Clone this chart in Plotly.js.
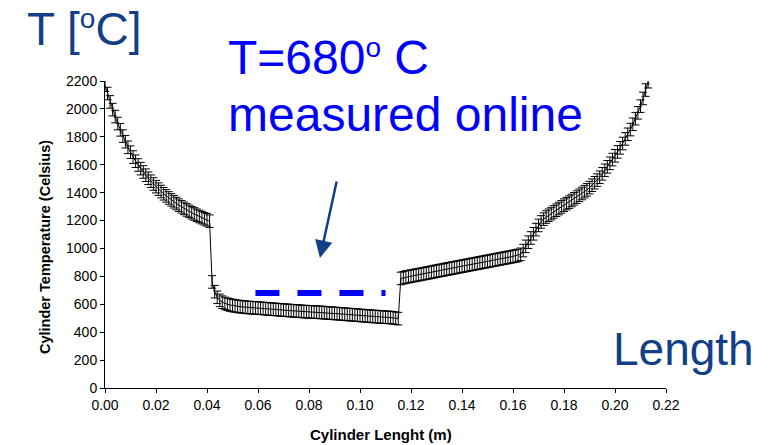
<!DOCTYPE html>
<html>
<head>
<meta charset="utf-8">
<script src="https://cdn.plot.ly/plotly-3.0.1.min.js"></script>
<style>html,body{margin:0;padding:0;background:#fff;}#chart{width:775px;height:445px;}</style>
</head>
<body>
<div id="chart"></div>
<script>
// Cylinder length (m)
const lengthM = [
0.000,0.001,0.002,0.003,0.004,0.005,0.006,0.007,0.008,0.009,
0.010,0.011,0.012,0.013,0.014,0.015,0.016,0.017,0.018,0.019,
0.020,0.021,0.022,0.023,0.024,0.025,0.026,0.027,0.028,0.029,
0.030,0.031,0.032,0.033,0.034,0.035,0.036,0.037,0.038,0.039,
0.040,0.041,0.042,0.043,0.044,0.045,0.046,0.047,0.048,0.049,
0.050,0.051,0.052,0.053,0.054,0.055,0.056,0.057,0.058,0.059,
0.060,0.061,0.062,0.063,0.064,0.065,0.066,0.067,0.068,0.069,
0.070,0.071,0.072,0.073,0.074,0.075,0.076,0.077,0.078,0.079,
0.080,0.081,0.082,0.083,0.084,0.085,0.086,0.087,0.088,0.089,
0.090,0.091,0.092,0.093,0.094,0.095,0.096,0.097,0.098,0.099,
0.100,0.101,0.102,0.103,0.104,0.105,0.106,0.107,0.108,0.109,
0.110,0.111,0.112,0.113,0.114,0.115,0.116,0.117,0.118,0.119,
0.120,0.121,0.122,0.123,0.124,0.125,0.126,0.127,0.128,0.129,
0.130,0.131,0.132,0.133,0.134,0.135,0.136,0.137,0.138,0.139,
0.140,0.141,0.142,0.143,0.144,0.145,0.146,0.147,0.148,0.149,
0.150,0.151,0.152,0.153,0.154,0.155,0.156,0.157,0.158,0.159,
0.160,0.161,0.162,0.163,0.164,0.165,0.166,0.167,0.168,0.169,
0.170,0.171,0.172,0.173,0.174,0.175,0.176,0.177,0.178,0.179,
0.180,0.181,0.182,0.183,0.184,0.185,0.186,0.187,0.188,0.189,
0.190,0.191,0.192,0.193,0.194,0.195,0.196,0.197,0.198,0.199,
0.200,0.201,0.202,0.203,0.204,0.205,0.206,0.207,0.208,0.209,
0.210,0.211,0.212,0.213
];
// Cylinder temperature (Celsius)
const tempC = [
2170,2110,2050,1995,1945,1895,1850,1805,1765,1725,
1690,1655,1625,1598,1572,1548,1525,1503,1482,1462,
1443,1425,1408,1392,1377,1362,1348,1335,1322,1310,
1298,1287,1276,1266,1256,1247,1238,1229,1221,1213,
1205,1195,760,690,650,628,615,606,600,595,
591,588,585,583,581,579,577,576,575,574,
573,571,570,568,567,565,564,563,561,560,
558,557,556,554,553,552,551,549,548,547,
546,545,544,543,542,541,540,538,537,536,
534,533,532,530,529,527,526,525,523,522,
520,519,517,516,515,513,512,511,509,508,
507,506,505,503,500,497,785,790,795,798,
802,805,809,812,816,819,823,826,830,834,
837,841,844,848,852,855,859,862,866,869,
873,876,880,883,887,890,894,897,901,904,
908,911,915,918,922,925,929,932,936,939,
943,946,950,958,985,1015,1045,1075,1105,1135,
1165,1190,1210,1225,1238,1250,1262,1274,1286,1298,
1310,1321,1332,1344,1356,1368,1381,1394,1407,1420,
1436,1453,1471,1490,1510,1535,1560,1585,1610,1637,
1664,1692,1721,1752,1785,1818,1852,1890,1930,1972,
2020,2075,2135,2195
];
const tempErr = 45;
// measured online value
const measuredX = [0.059, 0.110];
const measuredT = [680, 680];
const xTicks = [0,0.02,0.04,0.06,0.08,0.10,0.12,0.14,0.16,0.18,0.20,0.22];
const yTicks = [0,200,400,600,800,1000,1200,1400,1600,1800,2000,2200];

const FONT = 'Liberation Sans, Arial, Helvetica, sans-serif';
const NAVY = '#123f86';

const traces = [
  {
    x: lengthM, y: tempC, type: 'scatter', mode: 'lines',
    line: {color: '#000', width: 1},
    error_y: {type: 'constant', value: tempErr, color: '#000', thickness: 1, width: 4},
    hoverinfo: 'x+y', showlegend: false
  },
  {
    x: measuredX, y: measuredT, type: 'scatter', mode: 'lines',
    line: {color: '#0000ff', width: 6, dash: '24px,18px'},
    showlegend: false
  }
];

// pixel helpers for text placement (plot area: x 105..666, y 81..388)
const px = v => (v - 105) / 561;
const py = v => (388 - v) / 307;

const layout = {
  width: 775, height: 445,
  margin: {l: 105, r: 109, t: 81, b: 57, pad: 0},
  paper_bgcolor: '#fff', plot_bgcolor: '#fff',
  font: {family: FONT, color: '#000', size: 14},
  showlegend: false,
  xaxis: {
    range: [0, 0.22], tickvals: xTicks, tickformat: '.2f',
    showgrid: false, zeroline: false, showline: true, linecolor: '#000', linewidth: 1,
    ticks: 'outside', ticklen: 4, tickcolor: '#000', tickwidth: 1,
    tickfont: {family: FONT, size: 14, color: '#000'}
  },
  yaxis: {
    range: [0, 2200], tickvals: yTicks,
    showgrid: false, zeroline: false, showline: true, linecolor: '#000', linewidth: 1,
    ticks: 'outside', ticklen: 4, tickcolor: '#000', tickwidth: 1,
    tickfont: {family: FONT, size: 14, color: '#000'}
  },
  annotations: [
    {xref: 'paper', yref: 'paper', x: px(381), y: py(434), xanchor: 'center', yanchor: 'middle',
     text: '<b>Cylinder Lenght (m)</b>', showarrow: false, font: {family: FONT, size: 15, color: '#000'}},
    {xref: 'paper', yref: 'paper', x: px(45), y: py(247), xanchor: 'center', yanchor: 'middle', textangle: -90,
     text: '<b>Cylinder Temperature (Celsius)</b>', showarrow: false, font: {family: FONT, size: 14.5, color: '#000'}},
    {xref: 'paper', yref: 'paper', x: px(25), y: py(29), xanchor: 'left', yanchor: 'middle',
     text: 'T [<span style="font-size:40px"><sup>o</sup></span>C]', showarrow: false, font: {family: FONT, size: 46, color: NAVY}},
    {xref: 'paper', yref: 'paper', x: px(226), y: py(58), xanchor: 'left', yanchor: 'middle',
     text: 'T=680<span style="font-size:40px"><sup>o</sup></span> C', showarrow: false, font: {family: FONT, size: 48, color: '#0000ff'}},
    {xref: 'paper', yref: 'paper', x: px(226), y: py(114), xanchor: 'left', yanchor: 'middle',
     text: 'measured online', showarrow: false, font: {family: FONT, size: 48, color: '#0000ff'}},
    {xref: 'paper', yref: 'paper', x: px(611), y: py(349), xanchor: 'left', yanchor: 'middle',
     text: 'Length', showarrow: false, font: {family: FONT, size: 46, color: NAVY}},
    {xref: 'x', yref: 'y', x: 0.0843, y: 932, axref: 'pixel', ayref: 'pixel', ax: 17, ay: -78,
     text: '', showarrow: true, arrowhead: 2, arrowsize: 1.4, arrowwidth: 2.5, arrowcolor: NAVY}
  ]
};

Plotly.newPlot('chart', traces, layout, {displayModeBar: false, staticPlot: true});
</script>
</body>
</html>
